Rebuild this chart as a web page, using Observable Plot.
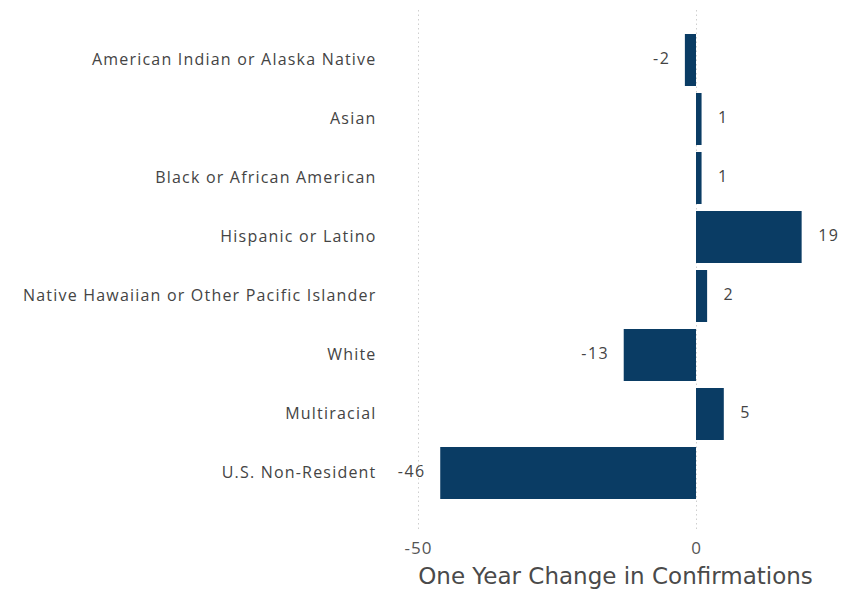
<!DOCTYPE html>
<html>
<head>
<meta charset="utf-8">
<script src="https://cdn.jsdelivr.net/npm/d3@7"></script>
<script src="https://cdn.jsdelivr.net/npm/@observablehq/plot@0.6"></script>
<style>
  html, body { margin: 0; padding: 0; background: #fff; }
  .ylab text { letter-spacing: 1.2px; }
  .xlab text { letter-spacing: 1px; }
  .vals text { letter-spacing: 1.5px; }
</style>
</head>
<body>
<div id="chart"></div>
<script>
const categories = [
  "American Indian or Alaska Native",
  "Asian",
  "Black or African American",
  "Hispanic or Latino",
  "Native Hawaiian or Other Pacific Islander",
  "White",
  "Multiracial",
  "U.S. Non-Resident"
];
const values = [-2, 1, 1, 19, 2, -13, 5, -46];
const xTicks = [-50, 0];
const xLabel = "One Year Change in Confirmations";

const data = categories.map((c, i) => ({category: c, value: values[i]}));
const barColor = "#0a3c64";

const chart = Plot.plot({
  width: 857,
  height: 589,
  marginLeft: 418,
  marginRight: 22,
  marginTop: 10,
  marginBottom: 59,
  style: {fontFamily: "'Open Sans', sans-serif", fontSize: "15px", color: "#555", background: "#fff"},
  x: {domain: [-50, 25], ticks: xTicks, label: null},
  y: {domain: categories, padding: 0.122, insetTop: 13.7, insetBottom: 20.7, label: null},
  marks: [
    Plot.gridX(xTicks, {stroke: "#cfcfcf", strokeOpacity: 1, strokeDasharray: "1.5,3"}),
    Plot.barX(data, {x: "value", y: "category", fill: barColor}),
    Plot.text(data.filter(d => d.value < 0), {x: "value", y: "category", text: d => String(d.value), textAnchor: "end", dx: -15, dy: -2, fill: "#444", fontSize: 16, className: "vals"}),
    Plot.text(data.filter(d => d.value >= 0), {x: "value", y: "category", text: d => String(d.value), textAnchor: "start", dx: 16, dy: -2, fill: "#444", fontSize: 16, className: "vals"}),
    Plot.axisX(xTicks, {tickSize: 0, tickPadding: 11, tickFormat: d => String(d), fontSize: 17, fill: "#555", label: null, className: "xlab"}),
    Plot.axisY({tickSize: 0, tickPadding: 42, dy: -1, fontSize: 16, fill: "#444", label: null, className: "ylab"}),
    Plot.text([xLabel], {frameAnchor: "bottom", dy: 53, dx: -11.5, fontSize: 23, fill: "#4a4a4a", fontFamily: "'DejaVu Sans', sans-serif"})
  ]
});
document.getElementById("chart").appendChild(chart);
</script>
</body>
</html>
